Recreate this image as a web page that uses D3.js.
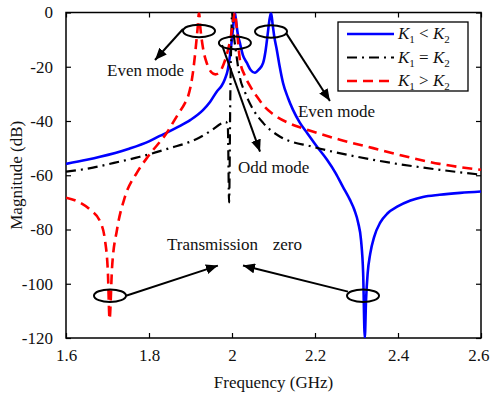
<!DOCTYPE html>
<html>
<head>
<meta charset="utf-8">
<script src="https://cdn.jsdelivr.net/npm/d3@7/dist/d3.min.js"></script>
<style>
  body { margin: 0; background: #fff; }
  text { font-family: "Liberation Serif", "Times New Roman", serif; fill: #111; }
</style>
</head>
<body>
<div id="chart"></div>
<script>
// K1 < K2 (blue solid)
const blueF = [1.6, 1.65, 1.682, 1.75, 1.8, 1.826, 1.843, 1.87, 1.9, 1.93, 1.947, 1.964, 1.975, 1.983, 1.99, 1.995, 2.0,
  2.004, 2.007, 2.01, 2.014, 2.019, 2.026, 2.036, 2.045, 2.055, 2.065, 2.075, 2.081, 2.086, 2.09, 2.094, 2.098, 2.102,
  2.108, 2.115, 2.123, 2.135, 2.147, 2.163, 2.181, 2.205, 2.229, 2.25, 2.267, 2.284, 2.295, 2.304, 2.311, 2.316, 2.32,
  2.323, 2.327, 2.333, 2.343, 2.357, 2.375, 2.398, 2.43, 2.46, 2.5, 2.55, 2.6];
const blueDb = [-55.8, -54.3, -53.2, -50.3, -47.5, -45.5, -44.3, -42.2, -39.6, -36, -33, -29, -27, -24.5, -21, -16, -9.5,
  -3.5, 0, -3.5, -8, -11.2, -15.6, -18.6, -21.2, -22.2, -21, -18.6, -14, -8, -3, 0, -4.5, -9,
  -13.8, -20, -26, -31.5, -35.9, -40.5, -44.4, -49.5, -54.3, -59.3, -64.2, -69, -72.8, -77.5, -84, -96, -120,
  -106, -96, -89, -82.5, -77.5, -74, -71.6, -69.3, -68, -67.2, -66.5, -66];

// K1 = K2 (black dash-dot)
const blackF = [1.6, 1.665, 1.7, 1.778, 1.8, 1.85, 1.9, 1.923, 1.95, 1.976, 1.985, 1.99, 1.993, 1.996, 1.999, 2.0, 2.003,
  2.01, 2.019, 2.031, 2.039, 2.05, 2.075, 2.116, 2.195, 2.34, 2.501, 2.6];
const blackDb = [-58.7, -57.2, -56, -53.2, -52.3, -50, -47.6, -46, -43.5, -40.8, -40.3, -42, -70, -30, -5, 0, -6,
  -15, -24, -29.3, -32.2, -35.5, -40.7, -45.8, -49.5, -54.3, -58, -59.8];

// K1 > K2 (red dashed)
const redF = [1.6, 1.63, 1.658, 1.682, 1.694, 1.701, 1.705, 1.711, 1.723, 1.742, 1.771, 1.798, 1.843, 1.87, 1.887, 1.894,
  1.906, 1.912, 1.917, 1.9205, 1.924, 1.93, 1.94, 1.95, 1.96, 1.97, 1.98, 1.99, 1.997, 2.003, 2.007, 2.011, 2.019,
  2.03, 2.043, 2.06, 2.08, 2.099, 2.14, 2.181, 2.26, 2.34, 2.422, 2.5, 2.6];
const redDb = [-68.3, -69.8, -72.7, -77, -84, -96, -113, -94, -80, -68, -59, -53, -44.3, -37.5, -33.3, -31,
  -22, -14, -6, 0, -6, -13, -19, -22, -22.8, -22, -19, -14, -9, -3, 0, -5, -17.5,
  -23, -27, -31, -35, -37.5, -41, -43.2, -46.9, -50, -53.2, -55.8, -58];

const xTicks = [1.6, 1.8, 2.0, 2.2, 2.4, 2.6];
const yTicks = [0, -20, -40, -60, -80, -100, -120];
const legendOps = ['<', '=', '>'];

// annotations, in data units (GHz, dB)
const ellipses = [[1.9205, -6.8], [2.007, -11.2], [2.094, -7], [1.706, -104.4], [2.3157, -104.4]];
const arrows = [
  [[1.882, -6.1], [1.8145, -17.5]],
  [[1.976, -12], [2.0675, -51.3]],
  [[2.130, -7.5], [2.236, -32.6]],
  [[1.7446, -104.4], [1.966, -93.3]],
  [[2.2795, -102.9], [2.0265, -93.3]]
];
const labels = [
  {text: 'Even mode', f: 1.699, db: -23.4, anchor: 'start'},
  {text: 'Odd mode', f: 2.0145, db: -59.1, anchor: 'start'},
  {text: 'Even mode', f: 2.159, db: -38.5, anchor: 'start'},
  {text: 'Transmission', f: 1.8434, db: -87.4, anchor: 'start'},
  {text: 'zero', f: 2.1687, db: -87.4, anchor: 'end'}
];

const series = [
  {f: blueF, db: blueDb, color: '#0000ff', dash: null, width: 2.6},
  {f: blackF, db: blackDb, color: '#000', dash: '10,5,2,5', width: 2.2},
  {f: redF, db: redDb, color: '#ff0000', dash: '10,6', width: 2.6}
];

const W = 490, H = 394;
const margin = {top: 12.5, right: 9, bottom: 56, left: 66};
const width = W - margin.left - margin.right;
const height = H - margin.top - margin.bottom;
const FS = '17px';

const svg = d3.select('#chart').append('svg')
  .attr('width', W).attr('height', H);

const defs = svg.append('defs');
defs.append('clipPath').attr('id', 'clip')
  .append('rect').attr('width', width).attr('height', height);
defs.append('marker')
  .attr('id', 'head').attr('viewBox', '0 0 12 10')
  .attr('refX', 12).attr('refY', 5)
  .attr('markerWidth', 12).attr('markerHeight', 10)
  .attr('markerUnits', 'userSpaceOnUse')
  .attr('orient', 'auto')
  .append('path').attr('d', 'M0,0L12,5L0,10Z').attr('fill', '#000');

const g = svg.append('g')
  .attr('transform', 'translate(' + margin.left + ',' + margin.top + ')');

const x = d3.scaleLinear().domain([1.6, 2.6]).range([0, width]);
const y = d3.scaleLinear().domain([-120, 0]).range([height, 0]);

const fmtX = d => String(+d.toFixed(1));

const xAxisG = g.append('g').attr('class', 'axis')
  .attr('transform', 'translate(0,' + height + ')')
  .call(d3.axisBottom(x).tickValues(xTicks).tickFormat(fmtX).tickSizeInner(-5).tickSizeOuter(0).tickPadding(11));
g.append('g').attr('class', 'axis')
  .call(d3.axisTop(x).tickValues(xTicks).tickFormat('').tickSizeInner(-5).tickSizeOuter(0));
g.append('g').attr('class', 'axis')
  .call(d3.axisLeft(y).tickValues(yTicks).tickFormat(d => String(d)).tickSizeInner(-5).tickSizeOuter(0).tickPadding(13));
g.append('g').attr('class', 'axis')
  .attr('transform', 'translate(' + width + ',0)')
  .call(d3.axisRight(y).tickValues(yTicks).tickFormat('').tickSizeInner(-5).tickSizeOuter(0));

g.selectAll('.axis text').style('font-size', FS).attr('fill', '#111');
g.selectAll('.axis line').attr('stroke', '#000').attr('stroke-width', 1.2);
g.selectAll('.axis .domain').remove();
// keep the last x label inside the window
xAxisG.selectAll('.tick text').filter(d => d === 2.6)
  .attr('text-anchor', 'end').attr('x', 8);

g.append('rect')
  .attr('width', width).attr('height', height)
  .attr('fill', 'none').attr('stroke', '#000').attr('stroke-width', 1.5);

const line = d3.line()
  .curve(d3.curveMonotoneX)
  .x(d => x(d[0]))
  .y(d => y(d[1]));

const plot = g.append('g').attr('clip-path', 'url(#clip)');
series.forEach(s => {
  plot.append('path')
    .datum(d3.zip(s.f, s.db))
    .attr('fill', 'none')
    .attr('stroke', s.color)
    .attr('stroke-width', s.width)
    .attr('stroke-dasharray', s.dash)
    .attr('stroke-linejoin', 'round')
    .attr('d', line);
});

// annotations
g.selectAll('.ell').data(ellipses).enter().append('ellipse')
  .attr('cx', d => x(d[0])).attr('cy', d => y(d[1]))
  .attr('rx', 16).attr('ry', 6.3)
  .attr('fill', 'none').attr('stroke', '#000').attr('stroke-width', 2);

g.selectAll('.arrow').data(arrows).enter().append('line')
  .attr('x1', d => x(d[0][0])).attr('y1', d => y(d[0][1]))
  .attr('x2', d => x(d[1][0])).attr('y2', d => y(d[1][1]))
  .attr('stroke', '#000').attr('stroke-width', 2)
  .attr('marker-end', 'url(#head)');

g.selectAll('.lab').data(labels).enter().append('text')
  .attr('x', d => x(d.f)).attr('y', d => y(d.db))
  .attr('text-anchor', d => d.anchor)
  .style('font-size', FS)
  .text(d => d.text);

// legend
const leg = svg.append('g').attr('transform', 'translate(338,22)');
leg.append('rect').attr('width', 130).attr('height', 69)
  .attr('fill', '#fff').attr('stroke', '#000').attr('stroke-width', 1.3);
series.forEach((s, i) => {
  const yy = 12 + i * 23.5;
  leg.append('line')
    .attr('x1', 9).attr('x2', 56).attr('y1', yy).attr('y2', yy)
    .attr('stroke', s.color).attr('stroke-width', s.width)
    .attr('stroke-dasharray', s.dash);
  const t = leg.append('text').attr('x', 60).attr('y', yy + 5).style('font-size', FS);
  t.append('tspan').attr('font-style', 'italic').text('K');
  t.append('tspan').attr('dy', 4).style('font-size', '11px').text('1');
  t.append('tspan').attr('dy', -4).text('\u00a0' + legendOps[i] + '\u00a0');
  t.append('tspan').attr('font-style', 'italic').text('K');
  t.append('tspan').attr('dy', 4).style('font-size', '11px').text('2');
});

// axis titles
svg.append('text')
  .attr('x', margin.left + width / 2).attr('y', 388)
  .attr('text-anchor', 'middle').style('font-size', FS)
  .text('Frequency (GHz)');
svg.append('text')
  .attr('transform', 'translate(22,' + (margin.top + height / 2) + ') rotate(-90)')
  .attr('text-anchor', 'middle').style('font-size', FS)
  .text('Magnitude (dB)');
</script>
</body>
</html>
